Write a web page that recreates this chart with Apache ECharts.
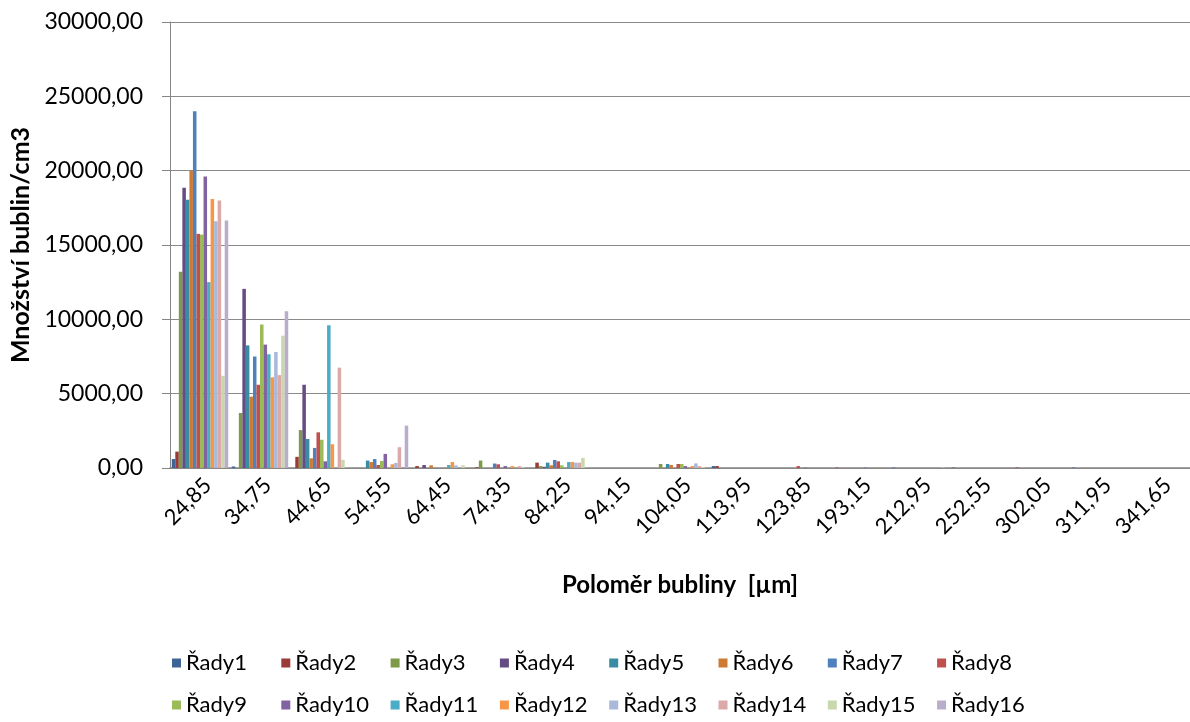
<!DOCTYPE html>
<html>
<head>
<meta charset="utf-8">
<script src="https://cdn.jsdelivr.net/npm/echarts@6/dist/echarts.min.js"></script>
<style>
html,body{margin:0;padding:0;background:#fff;}
#chart{width:1190px;height:722px;}
</style>
</head>
<body>
<div id="chart"></div>
<script>
const categories = ['24,85','34,75','44,65','54,55','64,45','74,35','84,25','94,15','104,05','113,95','123,85','193,15','212,95','252,55','302,05','311,95','341,65'];
const yTicks = [0, 5000, 10000, 15000, 20000, 25000, 30000];

const rady1  = [600,100,0,0,0,0,0,0,0,130,0,0,30,30,0,30,0];
const rady2  = [1100,0,750,0,130,50,360,0,0,130,0,30,0,0,30,0,0];
const rady3  = [13200,3700,2550,0,0,500,130,0,270,0,0,0,0,0,0,0,0];
const rady4  = [18850,12050,5600,0,200,0,80,0,0,0,0,0,0,0,0,0,0];
const rady5  = [18050,8250,1950,500,0,0,360,0,270,0,0,0,0,0,0,0,0];
const rady6  = [20000,4800,650,400,180,0,180,0,200,0,0,0,0,0,0,0,0];
const rady7  = [24000,7500,1350,600,0,300,540,0,0,0,0,0,0,0,0,0,0];
const rady8  = [15750,5600,2400,200,0,250,450,0,270,0,130,0,0,0,0,0,0];
const rady9  = [15700,9650,1900,470,0,0,180,0,270,0,0,0,0,0,0,0,0];
const rady10 = [19600,8300,450,950,0,130,0,0,130,0,30,30,0,0,0,0,0];
const rady11 = [12500,7650,9600,0,200,0,400,0,0,0,0,0,0,0,0,0,0];
const rady12 = [18100,6100,1600,250,400,130,400,0,130,0,0,0,0,0,0,0,0];
const rady13 = [16600,7800,0,340,180,0,360,0,310,0,0,0,0,0,0,0,0];
const rady14 = [18000,6250,6750,1400,0,130,360,0,130,0,0,0,0,0,0,0,0];
const rady15 = [6200,8900,550,0,180,50,680,0,70,0,0,0,30,0,0,0,0];
const rady16 = [16650,10550,0,2850,0,0,0,0,0,0,0,0,0,0,0,0,0];

const seriesNames = ['Řady1','Řady2','Řady3','Řady4','Řady5','Řady6','Řady7','Řady8','Řady9','Řady10','Řady11','Řady12','Řady13','Řady14','Řady15','Řady16'];
const seriesData = [rady1,rady2,rady3,rady4,rady5,rady6,rady7,rady8,rady9,rady10,rady11,rady12,rady13,rady14,rady15,rady16];
const colors = ['#3C6494','#9A3B38','#7D9A48','#654C84','#3A8CA3','#CF7A33','#4F81BD','#C0504D','#9BBB59','#8064A2','#4BACC6','#F79646','#A8B9DA','#DBA9A8','#C8D8AC','#B9ADCC'];

const FONT = 'Lato';
const chart = echarts.init(document.getElementById('chart'), null, {renderer:'canvas'});

// legend: 8 columns x 2 rows, one vertical legend per column
const legends = [];
for (let c = 0; c < 8; c++) {
  legends.push({
    left: 167 + c * 109.3,
    top: 647,
    orient: 'vertical',
    icon: 'rect',
    itemWidth: 9,
    itemHeight: 9,
    itemGap: 20,
    selectedMode: false,
    textStyle: { fontFamily: FONT, fontSize: 22, color: '#000' },
    data: [seriesNames[c], seriesNames[c + 8]]
  });
}

const option = {
  animation: false,
  color: colors,
  textStyle: { fontFamily: FONT },
  grid: { left: 170, top: 22, width: 1023, height: 446, containLabel: false },
  legend: legends,
  xAxis: {
    type: 'category',
    data: categories,
    name: 'Poloměr bubliny  [µm]',
    nameLocation: 'middle',
    nameGap: 105,
    nameTextStyle: { fontFamily: FONT, fontSize: 24, fontWeight: 'bold', color: '#000' },
    axisLine: { lineStyle: { color: '#868686', width: 1.5 } },
    axisTick: { show: false },
    axisLabel: { interval: 0, rotate: 45, fontFamily: FONT, fontSize: 22, color: '#000', margin: 6, verticalAlign: 'top' },
    splitLine: { show: false }
  },
  yAxis: {
    type: 'value',
    min: yTicks[0],
    max: yTicks[yTicks.length - 1],
    interval: yTicks[1] - yTicks[0],
    name: 'Množství bublin/cm3',
    nameLocation: 'middle',
    nameGap: 134,
    nameRotate: 90,
    nameTextStyle: { fontFamily: FONT, fontSize: 25, fontWeight: 'bold', color: '#000' },
    axisLine: { show: true, lineStyle: { color: '#868686', width: 1 } },
    axisTick: { show: true, length: 8, lineStyle: { color: '#868686' } },
    axisLabel: {
      fontFamily: FONT, fontSize: 23, color: '#000', margin: 27,
      formatter: v => v.toFixed(2).replace('.', ',')
    },
    splitLine: { show: true, lineStyle: { color: '#8a8a8a', width: 1 } }
  },
  series: seriesNames.map((n, i) => ({
    name: n,
    type: 'bar',
    data: seriesData[i],
    barGap: '0%',
    barCategoryGap: '5.88%',
    itemStyle: { color: colors[i] }
  }))
};
chart.setOption(option);
</script>
</body>
</html>
